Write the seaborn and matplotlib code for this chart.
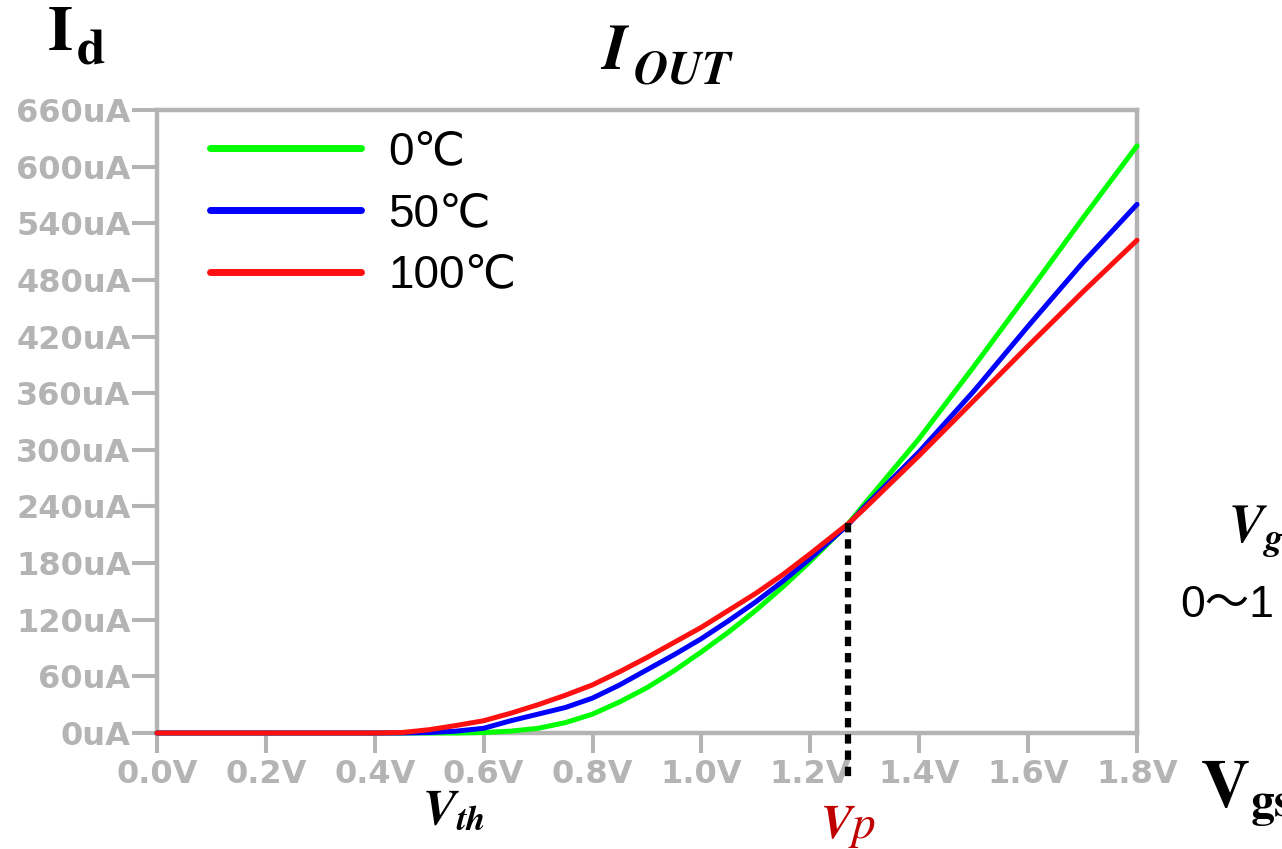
import pandas as pd
import seaborn as sns
import matplotlib.pyplot as plt
from matplotlib.font_manager import FontProperties

# Id-Vgs sweep at three temperatures
vgs = [0.0, 0.2, 0.4, 0.45, 0.5, 0.55, 0.6, 0.65, 0.7, 0.75, 0.8, 0.85, 0.9, 0.95,
       1.0, 1.05, 1.1, 1.15, 1.2, 1.27, 1.3, 1.4, 1.5, 1.6, 1.7, 1.8]
id_0c = [0, 0, 0, 0, 0, 0, 0.5, 2, 5, 11, 20, 33, 48, 66,
         86, 107, 130, 155, 182, 222, 243, 312, 388, 466, 545, 622]
id_50c = [0, 0, 0, 0, 0.5, 2, 5, 13, 20, 27, 37, 51, 67, 83,
          100, 119, 139, 161, 185, 221, 240, 298, 362, 431, 498, 560]
id_100c = [0, 0, 0, 0.5, 3.5, 8, 13, 21, 30, 40, 51, 65, 80, 96,
           112, 130, 148, 168, 190, 222, 238, 294, 352, 410, 467, 522]
temps = ["0℃", "50℃", "100℃"]
colors = ["#00ff00", "#0000ff", "#ff1010"]

x_ticks = [0.0, 0.2, 0.4, 0.6, 0.8, 1.0, 1.2, 1.4, 1.6, 1.8]
x_labels = ["0.0V", "0.2V", "0.4V", "0.6V", "0.8V", "1.0V", "1.2V", "1.4V", "1.6V", "1.8V"]
y_ticks = list(range(0, 661, 60))
y_labels = [f"{v}uA" for v in y_ticks]

vp = 1.27          # crossing point of the three curves
vp_current = 222

GREY = "#b4b4b4"


def main():
    df = pd.concat([
        pd.DataFrame({"Vgs": vgs, "Id": vals, "T": t})
        for t, vals in zip(temps, [id_0c, id_50c, id_100c])
    ])

    sns.set_style("white")
    plt.rcParams["mathtext.fontset"] = "stix"
    plt.rcParams["text.color"] = "black"

    fig = plt.figure(figsize=(12.82, 8.49), dpi=100)
    ax = fig.add_axes([157 / 1282, 116 / 849, 980 / 1282, 623 / 849])

    sns.lineplot(data=df, x="Vgs", y="Id", hue="T", hue_order=temps,
                 palette=colors, linewidth=3.6, ax=ax)
    for ln in ax.get_lines():
        ln.set_clip_on(False)
        ln.set_zorder(3)

    # dotted marker at Vp, running below the axis
    ax.plot([vp, vp], [vp_current, -47], color="black", linewidth=4.5,
            linestyle=(0, (1.5, 1.1)), dash_capstyle="butt", clip_on=False, zorder=4)

    ax.set_xlim(0, 1.8)
    ax.set_ylim(0, 660)
    ax.set_xticks(x_ticks, x_labels)
    ax.set_yticks(y_ticks, y_labels)
    ax.set_xlabel("")
    ax.set_ylabel("")
    for sp in ax.spines.values():
        sp.set_color(GREY)
        sp.set_linewidth(3.2)
        sp.set_visible(True)
    ax.tick_params(axis="both", direction="out", width=2.9, bottom=True, left=True,
                   color=GREY, labelcolor=GREY, labelsize=23)
    ax.tick_params(axis="x", length=14.4, pad=4)
    ax.tick_params(axis="y", length=18, pad=1)
    for lbl in ax.get_xticklabels() + ax.get_yticklabels():
        lbl.set_fontweight("bold")

    handles, labels = ax.get_legend_handles_labels()
    leg = ax.legend(handles, labels, loc="upper left", bbox_to_anchor=(0.054, 0.968),
                    frameon=False, borderpad=0, borderaxespad=0, handlelength=3.3,
                    handletextpad=0.6, labelspacing=0.39,
                    prop=FontProperties(family=["Liberation Sans", "DejaVu Sans"], size=33))
    for ln in leg.get_lines():
        ln.set_linewidth(5)
    for t in leg.get_texts():
        t.set_color("black")

    def px(x, y):
        return x / 1282, 1 - y / 849

    fig.text(*px(47, 50), r"$\mathbf{I}$", fontsize=46, va="baseline")
    fig.text(*px(76, 64), r"$\mathbf{d}$", fontsize=37, va="baseline")
    fig.text(*px(600, 69), r"$\mathbfit{I}$", fontsize=46, va="baseline")
    fig.text(*px(633, 83), r"$\mathbfit{OUT}$", fontsize=34, va="baseline")
    fig.text(*px(422, 823), r"$\mathbfit{V}_{\mathbfit{th}}$", fontsize=36, va="baseline")
    fig.text(*px(820, 838), r"$\mathbfit{V}\mathit{p}$", fontsize=34, va="baseline",
             color="#c00000")
    fig.text(*px(1228, 543), r"$\mathbfit{V}_{\mathbfit{g}}$", fontsize=38, va="baseline")
    fig.text(*px(1180, 617), "0～1", fontsize=32, va="baseline",
             family=["Liberation Sans", "Noto Sans CJK SC", "DejaVu Sans"])
    fig.text(*px(1200, 808), r"$\mathbf{V}_{\mathbf{gs}}$", fontsize=49, va="baseline")

    fig.savefig("out.png", dpi=100)


main()
